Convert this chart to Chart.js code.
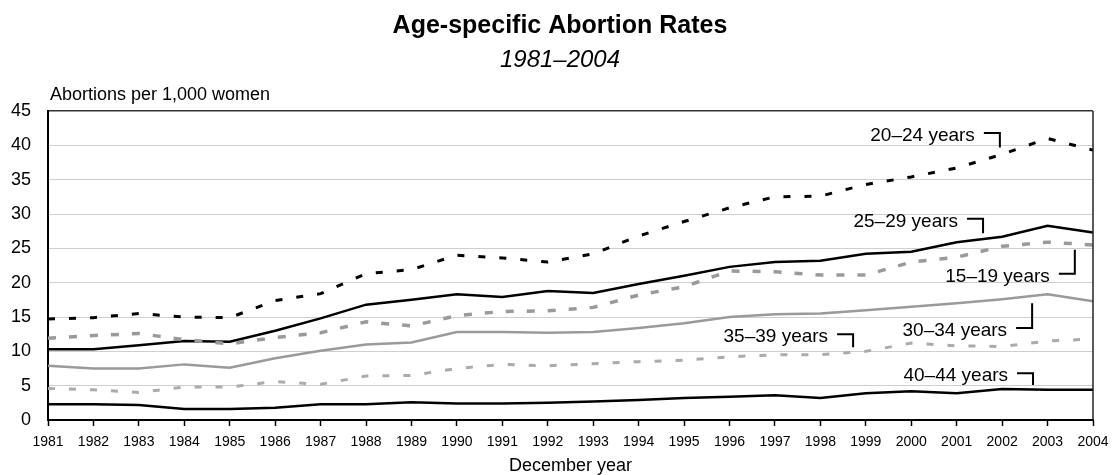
<!DOCTYPE html>
<html lang="en">
<head>
  <meta charset="UTF-8">
  <title>Age-specific Abortion Rates</title>
  <script src="https://cdn.jsdelivr.net/npm/chart.js"></script>
  <style>
    body {
      margin: 0;
      background: #fff;
    }

    .chart-box {
      width: 1117px;
      height: 475px;
    }
  </style>
</head>
<body>

  <div class="chart-box">
    <canvas id="rateChart"></canvas>
  </div>

  <script>
    // values (per 1,000 women)
    const years = ["1981", "1982", "1983", "1984", "1985", "1986", "1987", "1988", "1989", "1990", "1991", "1992",
                   "1993", "1994", "1995", "1996", "1997", "1998", "1999", "2000", "2001", "2002", "2003", "2004"];

    const rate15to19 = [11.9, 12.3, 12.6, 11.7, 11.1, 12.0, 12.7, 14.3, 13.7, 15.2, 15.8, 15.9,
                        16.4, 18.2, 19.4, 21.7, 21.6, 21.1, 21.1, 23.0, 23.7, 25.3, 25.9, 25.5];
    const rate20to24 = [14.7, 14.9, 15.5, 15.0, 14.9, 17.4, 18.4, 21.3, 21.9, 24.0, 23.6, 23.0,
                        24.2, 26.8, 28.9, 30.9, 32.5, 32.6, 34.3, 35.4, 36.7, 38.7, 41.0, 39.3];
    const rate25to29 = [10.3, 10.3, 10.9, 11.5, 11.4, 13.0, 14.8, 16.8, 17.5, 18.3, 17.9, 18.8,
                        18.5, 19.8, 21.0, 22.3, 23.0, 23.2, 24.2, 24.5, 25.9, 26.7, 28.3, 27.3];
    const rate30to34 = [7.9, 7.5, 7.5, 8.1, 7.6, 9.0, 10.1, 11.0, 11.3, 12.8, 12.8, 12.7,
                        12.8, 13.4, 14.1, 15.0, 15.4, 15.5, 16.0, 16.5, 17.0, 17.6, 18.3, 17.3];
    const rate35to39 = [4.6, 4.4, 4.0, 4.8, 4.8, 5.6, 5.2, 6.4, 6.5, 7.5, 8.1, 7.9,
                        8.2, 8.5, 8.7, 9.2, 9.5, 9.5, 10.0, 11.2, 10.8, 10.7, 11.5, 11.8];
    const rate40to44 = [2.3, 2.3, 2.2, 1.6, 1.6, 1.8, 2.3, 2.3, 2.6, 2.4, 2.4, 2.5,
                        2.7, 2.9, 3.2, 3.4, 3.6, 3.2, 3.9, 4.2, 3.9, 4.5, 4.4, 4.4];

    const yTicks = [0, 5, 10, 15, 20, 25, 30, 35, 40, 45];

    // where each series name sits: bracket corner (category index, value) and bracket end value
    const seriesNotes = [
      { text: "20–24 years", at: 20.95, corner: 41.8, end: 39.7 },
      { text: "25–29 years", at: 20.58, corner: 29.3, end: 27.2 },
      { text: "15–19 years", at: 22.6,  corner: 21.3, end: 24.8 },
      { text: "30–34 years", at: 21.66, corner: 13.4, end: 17.0 },
      { text: "35–39 years", at: 17.72, corner: 12.5, end: 10.6 },
      { text: "40–44 years", at: 21.68, corner: 6.8,  end: 5.1 }
    ];

    const FONT = "'Liberation Sans', Arial, sans-serif";

    const textPlugin = {
      id: "textPlugin",
      afterDraw(chart) {
        const ctx = chart.ctx;
        const area = chart.chartArea;
        const xs = chart.scales.x;
        const ys = chart.scales.y;
        ctx.save();

        // right frame line
        ctx.strokeStyle = "#222";
        ctx.lineWidth = 1.5;
        ctx.beginPath();
        ctx.moveTo(area.right, area.top);
        ctx.lineTo(area.right, area.bottom);
        ctx.stroke();

        ctx.fillStyle = "#000";
        ctx.textBaseline = "alphabetic";

        ctx.textAlign = "center";
        ctx.font = "bold 25px " + FONT;
        ctx.fillText("Age-specific Abortion Rates", 560, 33);
        ctx.font = "italic 24px " + FONT;
        ctx.fillText("1981–2004", 560, 67);

        ctx.font = "18px " + FONT;
        ctx.fillText("December year", (area.left + area.right) / 2, 471);

        ctx.textAlign = "left";
        ctx.fillText("Abortions per 1,000 women", 50, 100);

        // series names with bracket leaders
        ctx.font = "19px " + FONT;
        ctx.textAlign = "right";
        ctx.lineWidth = 2;
        ctx.strokeStyle = "#000";
        seriesNotes.forEach(n => {
          const cx = xs.getPixelForValue(n.at);
          const cy = ys.getPixelForValue(n.corner);
          const ey = ys.getPixelForValue(n.end);
          ctx.beginPath();
          ctx.moveTo(cx - 16, cy);
          ctx.lineTo(cx, cy);
          ctx.lineTo(cx, ey);
          ctx.stroke();
          ctx.fillText(n.text, cx - 25, cy + 8);
        });

        ctx.restore();
      }
    };

    function line(label, data, color, width, dash) {
      return {
        label,
        data,
        borderColor: color,
        borderWidth: width,
        borderDash: dash || [],
        borderCapStyle: "butt",
        pointRadius: 0,
        tension: 0,
        fill: false
      };
    }

    new Chart(document.getElementById("rateChart"), {
      type: "line",
      data: {
        labels: years,
        datasets: [
          line("15–19 years", rate15to19, "#9a9a9a", 3.5, [8, 13]),
          line("35–39 years", rate35to39, "#ababab", 3, [7, 14]),
          line("30–34 years", rate30to34, "#9a9a9a", 2.5),
          line("20–24 years", rate20to24, "#000", 3, [7, 14]),
          line("25–29 years", rate25to29, "#000", 2.5),
          line("40–44 years", rate40to44, "#000", 2.5)
        ]
      },
      options: {
        responsive: true,
        maintainAspectRatio: false,
        animation: false,
        layout: { padding: { top: 111, right: 24, left: 0, bottom: 0 } },
        plugins: {
          legend: { display: false },
          title: { display: false },
          tooltip: { enabled: false }
        },
        scales: {
          x: {
            offset: false,
            afterFit(scale) { scale.height = 55; },
            grid: {
              drawOnChartArea: false,
              drawTicks: true,
              tickLength: 6,
              tickColor: "#000",
              tickWidth: 1.5
            },
            border: { color: "#000", width: 2 },
            ticks: {
              color: "#000",
              font: { family: FONT, size: 14 },
              maxRotation: 0,
              autoSkip: false,
              padding: 8
            }
          },
          y: {
            min: 0,
            max: 45,
            afterFit(scale) { scale.width = 48; },
            afterBuildTicks(scale) { scale.ticks = yTicks.map(v => ({ value: v })); },
            grid: {
              drawTicks: false,
              color: c => c.tick && c.tick.value === 45 ? "#333" : "#cfcfcf",
              lineWidth: c => c.tick && c.tick.value === 45 ? 1.5 : 1
            },
            border: { color: "#000", width: 2 },
            ticks: {
              color: "#000",
              font: { family: FONT, size: 18 },
              padding: 17
            }
          }
        }
      },
      plugins: [textPlugin]
    });
  </script>

</body>
</html>
